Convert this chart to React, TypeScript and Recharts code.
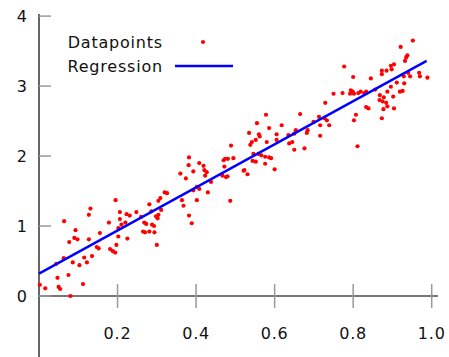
import { ScatterChart, Scatter, XAxis, YAxis, Legend, ReferenceLine } from 'recharts';

const FONT = '"DejaVu Sans", Verdana, sans-serif';

// sample points
const pointX = [
  0.002, 0.016, 0.047, 0.05, 0.054, 0.075, 0.08, 0.112, 0.044, 0.063, 0.086, 0.103, 0.122, 0.135, 0.115,
  0.147, 0.152, 0.181, 0.188, 0.194, 0.197, 0.3, 0.077, 0.09, 0.098, 0.093, 0.127, 0.155, 0.064, 0.127,
  0.131, 0.178, 0.195, 0.202, 0.202, 0.225, 0.206, 0.206, 0.21, 0.22, 0.223, 0.231, 0.248, 0.265, 0.268,
  0.273, 0.26, 0.288, 0.27, 0.281, 0.294, 0.293, 0.298, 0.302, 0.281, 0.286, 0.304, 0.311, 0.304, 0.309,
  0.32, 0.326, 0.364, 0.368, 0.382, 0.389, 0.393, 0.402, 0.408, 0.43, 0.402, 0.487, 0.36, 0.374, 0.393,
  0.382, 0.381, 0.408, 0.419, 0.421, 0.427, 0.423, 0.438, 0.489, 0.47, 0.474, 0.481, 0.495, 0.472, 0.467,
  0.476, 0.48, 0.521, 0.531, 0.523, 0.544, 0.552, 0.576, 0.546, 0.559, 0.566, 0.576, 0.586, 0.591, 0.6,
  0.538, 0.542, 0.552, 0.58, 0.605, 0.535, 0.56, 0.562, 0.605, 0.555, 0.586, 0.618, 0.578, 0.635, 0.645,
  0.637, 0.65, 0.676, 0.654, 0.65, 0.665, 0.682, 0.684, 0.699, 0.713, 0.727, 0.733, 0.739, 0.716, 0.716,
  0.729, 0.75, 0.773, 0.811, 0.792, 0.794, 0.799, 0.802, 0.813, 0.819, 0.828, 0.833, 0.856, 0.868, 0.878,
  0.867, 0.875, 0.887, 0.902, 0.919, 0.926, 0.884, 0.887, 0.877, 0.904, 0.833, 0.839, 0.807, 0.802, 0.873,
  0.777, 0.8, 0.845, 0.873, 0.885, 0.873, 0.896, 0.904, 0.898, 0.921, 0.952, 0.938, 0.935, 0.932, 0.929,
  0.94, 0.945, 0.968, 0.97, 0.989, 0.911, 0.93, 0.896,
];
const pointY = [
  0.16, 0.11, 0.26, 0.13, 0.1, 0.3, 0.0, 0.17, 0.46, 0.54, 0.48, 0.44, 0.48, 0.57, 0.55,
  0.7, 0.68, 0.67, 0.64, 0.62, 0.73, 0.73, 0.77, 0.83, 0.81, 0.94, 0.81, 0.9, 1.07, 1.16,
  1.25, 1.05, 1.37, 0.97, 0.85, 0.82, 1.2, 1.1, 1.02, 1.05, 1.17, 1.15, 1.2, 0.92, 1.05,
  1.03, 1.13, 1.02, 0.91, 0.92, 0.91, 1.0, 1.14, 1.11, 1.31, 1.21, 1.16, 1.23, 1.36, 1.4,
  1.48, 1.47, 1.37, 1.29, 1.15, 1.04, 1.51, 1.56, 1.53, 1.48, 1.37, 1.36, 1.75, 1.68, 1.78,
  1.98, 1.87, 1.9, 1.86, 1.8, 1.77, 1.72, 1.63, 2.15, 1.94, 1.96, 1.96, 1.97, 1.85, 1.72,
  1.7, 1.71, 1.79, 1.74, 1.8, 1.93, 1.92, 1.89, 2.03, 2.03, 2.01, 1.99, 1.98, 1.97, 1.81,
  2.16, 2.2, 2.23, 2.2, 2.23, 2.33, 2.31, 2.28, 2.31, 2.47, 2.4, 2.44, 2.59, 2.3, 2.2,
  2.18, 2.09, 2.11, 2.37, 2.32, 2.6, 2.33, 2.37, 2.49, 2.56, 2.54, 2.51, 2.44, 2.44, 2.29,
  2.76, 2.89, 2.9, 2.14, 2.89, 2.94, 2.92, 2.89, 2.9, 2.92, 2.9, 2.92, 2.95, 2.87, 2.84,
  2.8, 2.78, 2.92, 2.85, 2.92, 2.93, 2.76, 2.71, 2.67, 2.68, 2.7, 2.68, 2.59, 2.51, 2.54,
  3.28, 3.13, 3.11, 3.22, 3.22, 3.17, 3.29, 3.31, 3.24, 3.56, 3.65, 3.44, 3.41, 3.36, 3.14,
  3.19, 3.14, 3.19, 3.14, 3.12, 3.05, 3.04, 2.99,
];

// fitted line endpoints
const regX = [0, 0.987];
const regY = [0.32, 3.36];

const xTicks = [0.2, 0.4, 0.6, 0.8, 1.0];
const yTicks = [0, 1, 2, 3, 4];
const xDomain: [number, number] = [0, 1.016];
const yDomain: [number, number] = [0, 4.03];
const yBottom = -0.871;

const points = pointX.map((x, i) => ({ x, y: pointY[i] }));
const regression = regX.map((x, i) => ({ x, y: regY[i] }));

const XTick = (props: any) => {
  const { x, y, payload } = props;
  return (
    <g>
      <line x1={x} x2={x} y1={y - 12} y2={y + 12} stroke="#999" strokeWidth={1.5} />
      <text x={x} y={y + 43} textAnchor="middle" fill="#111" fontSize={16} letterSpacing={0.8} fontFamily={FONT}>
        {Number(payload.value).toFixed(1)}
      </text>
    </g>
  );
};

const YTick = (props: any) => {
  const { x, y, payload } = props;
  return (
    <g>
      <line x1={x} x2={x + 12} y1={y} y2={y} stroke="#999" strokeWidth={1.5} />
      <text x={x - 12} y={y} dy="0.4em" textAnchor="end" fill="#111" fontSize={16} fontFamily={FONT}>
        {payload.value}
      </text>
    </g>
  );
};

const renderLegend = () => (
  <div style={{ fontFamily: FONT, fontSize: 16, letterSpacing: 0.8, color: '#111' }}>
    <div style={{ display: 'flex', alignItems: 'center', height: 24 }}>
      <span style={{ width: 123, textAlign: 'right' }}>Datapoints</span>
      <svg width={70} height={24} style={{ marginLeft: 6 }}>
        <circle cx={34} cy={12} r={2.1} fill="#ff0000" />
      </svg>
    </div>
    <div style={{ display: 'flex', alignItems: 'center', height: 24 }}>
      <span style={{ width: 123, textAlign: 'right' }}>Regression</span>
      <svg width={70} height={24} style={{ marginLeft: 6 }}>
        <line x1={6} x2={64} y1={12} y2={12} stroke="#0000ff" strokeWidth={2.4} />
      </svg>
    </div>
  </div>
);

export default function App() {
  return (
    <div style={{ position: 'absolute', left: 0, top: 0, background: '#fff' }}>
      <ScatterChart width={449} height={357} margin={{ top: 14, right: 11, bottom: 0, left: 0 }}>
        <XAxis
          type="number"
          dataKey="x"
          domain={xDomain}
          ticks={xTicks}
          height={61}
          tickSize={0}
          tickMargin={0}
          tickLine={false}
          tick={<XTick />}
          axisLine={{ stroke: '#777', strokeWidth: 2 }}
        />
        <YAxis
          type="number"
          dataKey="y"
          domain={yDomain}
          ticks={yTicks}
          width={39}
          tickSize={0}
          tickMargin={0}
          tickLine={false}
          tick={<YTick />}
          axisLine={false}
        />
        <ReferenceLine
          segment={[
            { x: 0, y: yBottom },
            { x: 0, y: yDomain[1] },
          ]}
          ifOverflow="visible"
          stroke="#555"
          strokeWidth={1.8}
        />
        <Legend
          layout="vertical"
          align="center"
          verticalAlign="middle"
          content={renderLegend}
          wrapperStyle={{ left: 40, top: 30, width: 240, height: 48 }}
        />
        <Scatter
          data={points}
          isAnimationActive={false}
          shape={(p: any) => <circle cx={p.cx} cy={p.cy} r={2.1} fill="#ff0000" />}
        />
        <Scatter
          data={regression}
          isAnimationActive={false}
          line={{ stroke: '#0000ff', strokeWidth: 2.4 }}
          shape={() => <g />}
        />
      </ScatterChart>
    </div>
  );
}
